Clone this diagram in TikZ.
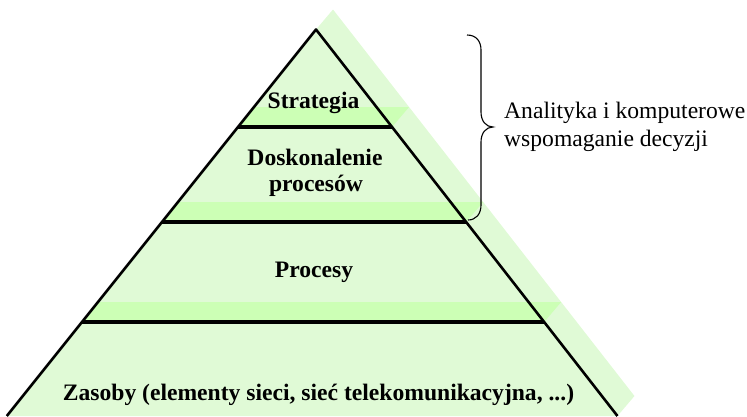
\documentclass[tikz,border=0pt]{standalone}
\usepackage{fontspec}
\setmainfont{Liberation Serif}
\definecolor{facegreen}{RGB}{224,250,214}
\definecolor{topgreen}{RGB}{204,255,181}
\begin{document}
\begin{tikzpicture}[x=1pt,y=-1pt,
  face/.style={fill=facegreen,draw=none},
  topface/.style={fill=topgreen,draw=none},
  edgeline/.style={draw=black,line width=2.6pt,line join=round},
  levelline/.style={draw=black,line width=4pt},
  lab/.style={font=\fontsize{23.6}{27}\selectfont\bfseries,inner sep=0pt,anchor=base},
  note/.style={font=\fontsize{23.6}{27}\selectfont,inner sep=0pt,anchor=base west},
  bracepath/.style={draw=black,line width=1.1pt}]
\useasboundingbox (0,0) rectangle (747,416);
% front corners
\coordinate (A) at (316,29.5);
\coordinate (L1) at (238,127);   \coordinate (R1) at (392.05,127);
\coordinate (L2) at (162,222);   \coordinate (R2) at (466.15,222);
\coordinate (L3) at (82,322);    \coordinate (R3) at (544.15,322);
\coordinate (L4) at (6.8,416);   \coordinate (R4) at (617.47,416);
% back corners (depth offset)
\foreach \p in {A,L1,R1,L2,R2,L3,R3,L4,R4}{
  \coordinate (\p b) at ([shift={(17,-20)}]\p);
}
% layer 1
\path[face] (L1) -- (R1) -- (R1b) -- (Ab) -- (A) -- cycle;
% layer 2
\path[face] (L2) -- (R2) -- (R2b) -- (R1b) -- (L1b) -- (L1) -- cycle;
\path[topface] (L1) -- (R1) -- (R1b) -- (L1b) -- cycle;
% layer 3
\path[face] (L3) -- (R3) -- (R3b) -- (R2b) -- (L2b) -- (L2) -- cycle;
\path[topface] (L2) -- (R2) -- (R2b) -- (L2b) -- cycle;
% layer 4
\path[face] (L4) -- (R4) -- (R4b) -- (R3b) -- (L3b) -- (L3) -- cycle;
\path[topface] (L3) -- (R3) -- (R3b) -- (L3b) -- cycle;
% outlines
\draw[edgeline] (L4) -- (A) -- (R4);
\draw[levelline] (L1) -- (R1);
\draw[levelline] (L2) -- (R2);
\draw[levelline] (L3) -- (R3);
% labels
\node[lab] (strat) at (313.5,108.5) {Strategia};
\node[lab] (dosk) at (315,165) {Doskonalenie};
\node[lab] (procw) at (316,191) {procesów};
\node[lab] (proc) at (314,277) {Procesy};
\node[lab] (zas) at (318.5,400) {Zasoby (elementy sieci, sieć telekomunikacyjna, ...)};
\node[note] (an1) at (504,118.3) {Analityka i komputerowe};
\node[note] (an2) at (504,146) {wspomaganie decyzji};
% brace
\coordinate (bt) at (467,35);
\coordinate (bm) at (493,127);
\coordinate (bb) at (468,220);
\draw[bracepath] (bt) .. controls (476,35) and (481,41) .. (481,50) -- (481,112)
  .. controls (481,121) and (486,127) .. (bm)
  .. controls (486,127) and (481,133) .. (481,142) -- (481,205)
  .. controls (481,214) and (476,220) .. (bb);
\end{tikzpicture}
\end{document}
